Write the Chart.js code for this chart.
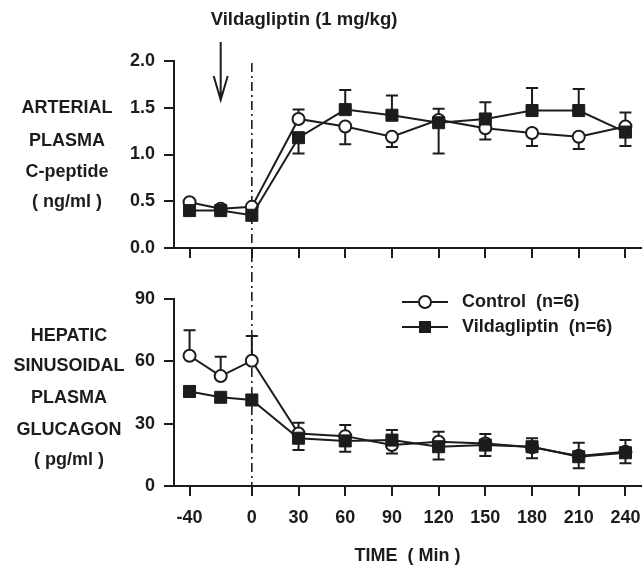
<!DOCTYPE html>
<html>
<head>
<meta charset="utf-8">
<script src="https://cdn.jsdelivr.net/npm/chart.js@4/dist/chart.umd.min.js"></script>
<style>
  body { margin: 0; background: #fff; }
  #wrap { position: relative; width: 642px; height: 567px; }
  canvas { position: absolute; left: 0; }
  #top-chart { top: 0; }
  #bottom-chart { top: 273px; }
</style>
</head>
<body>
<div id="wrap">
  <canvas id="top-chart" width="642" height="273"></canvas>
  <canvas id="bottom-chart" width="642" height="294"></canvas>
</div>
<script>
// time in minutes, vildagliptin given at -20
const timePoints = [-40, -20, 0, 30, 60, 90, 120, 150, 180, 210, 240];
const xTickValues = [-40, 0, 30, 60, 90, 120, 150, 180, 210, 240];
const seriesNames = ['Control  (n=6)', 'Vildagliptin  (n=6)'];

// arterial plasma C-peptide (ng/ml)
const ctrlCpep = [0.49, 0.42, 0.44, 1.38, 1.30, 1.19, 1.37, 1.28, 1.23, 1.19, 1.30];
const ctrlCpepUp = [0, 0, 0, 0.10, 0, 0, 0.12, 0, 0, 0, 0.15];
const ctrlCpepDown = [0, 0, 0, 0, 0.19, 0.11, 0, 0.12, 0.14, 0.13, 0];
const vildCpep = [0.40, 0.40, 0.35, 1.18, 1.48, 1.42, 1.34, 1.38, 1.47, 1.47, 1.24];
const vildCpepUp = [0, 0, 0, 0, 0.21, 0.21, 0, 0.18, 0.24, 0.23, 0];
const vildCpepDown = [0, 0, 0, 0.17, 0, 0, 0.33, 0, 0, 0, 0.15];
const cpepTicks = [0, 0.5, 1.0, 1.5, 2.0];

// hepatic sinusoidal plasma glucagon (pg/ml)
const ctrlGlucagon = [62.7, 52.9, 60.3, 25.3, 24.0, 19.7, 21.3, 20.5, 18.6, 14.5, 16.5];
const ctrlGlucagonUp = [12.3, 9.3, 11.9, 5.2, 5.4, 0, 4.8, 4.5, 4.4, 6.3, 5.6];
const ctrlGlucagonDown = [0, 0, 0, 0, 0, 4.0, 0, 0, 0, 0, 0];
const vildGlucagon = [45.5, 42.7, 41.4, 23.0, 21.7, 22.1, 18.9, 19.7, 18.9, 14.1, 16.0];
const vildGlucagonUp = [0, 0, 0, 0, 0, 4.9, 0, 0, 0, 0, 0];
const vildGlucagonDown = [2.5, 2.0, 0, 5.7, 5.2, 0, 6.1, 5.3, 5.6, 5.6, 5.1];
const glucagonTicks = [0, 30, 60, 90];

const INK = '#1c1c1c';
const FONT = '"Liberation Sans", Arial, sans-serif';

function toPoints(vals) {
    return timePoints.map((t, i) => ({ x: t, y: vals[i] }));
}

function makeDatasets(ctrl, ctrlUp, ctrlDown, vild, vildUp, vildDown) {
    return [{
        label: seriesNames[0],
        data: toPoints(ctrl),
        errUp: ctrlUp,
        errDown: ctrlDown,
        borderColor: INK,
        borderWidth: 2,
        pointStyle: 'circle',
        pointRadius: 6,
        pointBorderWidth: 2,
        pointBackgroundColor: '#fff',
        pointBorderColor: INK,
        tension: 0,
        clip: false,
        order: 2
    }, {
        label: seriesNames[1],
        data: toPoints(vild),
        errUp: vildUp,
        errDown: vildDown,
        borderColor: INK,
        borderWidth: 2,
        pointStyle: 'rect',
        pointRadius: 8.5,
        pointBorderWidth: 1,
        pointBackgroundColor: INK,
        pointBorderColor: INK,
        tension: 0,
        clip: false,
        order: 1
    }];
}

// SEM whiskers, drawn under the markers
const errorBars = {
    id: 'errorBars',
    beforeDatasetsDraw(chart) {
        const ctx = chart.ctx;
        const ys = chart.scales.y;
        ctx.save();
        ctx.strokeStyle = INK;
        ctx.lineWidth = 2;
        chart.data.datasets.forEach((ds, i) => {
            const meta = chart.getDatasetMeta(i);
            meta.data.forEach((pt, j) => {
                const v = ds.data[j].y;
                [ds.errUp[j], -ds.errDown[j]].forEach(e => {
                    if (!e) return;
                    const yEnd = ys.getPixelForValue(v + e);
                    ctx.beginPath();
                    ctx.moveTo(pt.x, pt.y);
                    ctx.lineTo(pt.x, yEnd);
                    ctx.moveTo(pt.x - 6, yEnd);
                    ctx.lineTo(pt.x + 6, yEnd);
                    ctx.stroke();
                });
            });
        });
        ctx.restore();
    }
};

function drawDashDot(chart, y0, y1) {
    const ctx = chart.ctx;
    const x = chart.scales.x.getPixelForValue(0);
    ctx.save();
    ctx.strokeStyle = INK;
    ctx.lineWidth = 1.6;
    ctx.setLineDash([9, 4, 2, 4]);
    ctx.beginPath();
    ctx.moveTo(x, y0);
    ctx.lineTo(x, y1);
    ctx.stroke();
    ctx.restore();
}

function drawSideLabel(chart, lines, cx, ys) {
    const ctx = chart.ctx;
    ctx.save();
    ctx.fillStyle = INK;
    ctx.font = 'bold 18px ' + FONT;
    ctx.textAlign = 'center';
    ctx.textBaseline = 'middle';
    lines.forEach((t, i) => ctx.fillText(t, cx, ys[i]));
    ctx.restore();
}

const topDecor = {
    id: 'topDecor',
    beforeDatasetsDraw(chart) {
        drawDashDot(chart, 63, chart.height);
    },
    afterDraw(chart) {
        const ctx = chart.ctx;
        drawSideLabel(chart, ['ARTERIAL', 'PLASMA', 'C-peptide', '( ng/ml )'], 67, [108, 141, 172, 202]);
        ctx.save();
        ctx.fillStyle = INK;
        ctx.font = 'bold 18.5px ' + FONT;
        ctx.textAlign = 'center';
        ctx.textBaseline = 'middle';
        ctx.fillText('Vildagliptin (1 mg/kg)', 304, 20);
        // dosing arrow
        const ax = chart.scales.x.getPixelForValue(-20);
        ctx.strokeStyle = INK;
        ctx.lineWidth = 2;
        ctx.beginPath();
        ctx.moveTo(ax, 42);
        ctx.lineTo(ax, 100);
        ctx.moveTo(ax - 7, 76);
        ctx.lineTo(ax, 100);
        ctx.lineTo(ax + 7, 76);
        ctx.stroke();
        ctx.restore();
    }
};

const bottomDecor = {
    id: 'bottomDecor',
    beforeDatasetsDraw(chart) {
        drawDashDot(chart, 0, chart.chartArea.bottom + 4);
    },
    afterDraw(chart) {
        const ctx = chart.ctx;
        drawSideLabel(chart, ['HEPATIC', 'SINUSOIDAL', 'PLASMA', 'GLUCAGON', '( pg/ml )'], 69, [63, 93, 125, 157, 187]);
        // legend
        const rows = [29, 54];
        ctx.save();
        chart.data.datasets.forEach((ds, i) => {
            const y = rows[i];
            ctx.strokeStyle = INK;
            ctx.lineWidth = 2;
            ctx.beginPath();
            ctx.moveTo(402, y);
            ctx.lineTo(448, y);
            ctx.stroke();
            if (ds.pointStyle === 'circle') {
                ctx.fillStyle = '#fff';
                ctx.beginPath();
                ctx.arc(425, y, 6, 0, Math.PI * 2);
                ctx.fill();
                ctx.stroke();
            } else {
                ctx.fillStyle = INK;
                ctx.fillRect(419, y - 6, 12, 12);
            }
            ctx.fillStyle = INK;
            ctx.font = 'bold 18px ' + FONT;
            ctx.textAlign = 'left';
            ctx.textBaseline = 'middle';
            ctx.fillText(ds.label, 462, y);
        });
        ctx.restore();
    }
};

function axisGrid() {
    return { display: true, drawOnChartArea: false, color: INK, lineWidth: 2, tickLength: 10 };
}

function makeOptions(yMin, yMax, yTicks, yFmt, topPad, xHeight, showX) {
    return {
        responsive: false,
        animation: false,
        devicePixelRatio: 1,
        layout: { autoPadding: false, padding: { top: topPad, right: 1, left: 0, bottom: 0 } },
        plugins: { legend: { display: false }, tooltip: { enabled: false } },
        scales: {
            x: {
                type: 'linear',
                min: -50,
                max: 250,
                afterBuildTicks: s => { s.ticks = xTickValues.map(v => ({ value: v })); },
                afterFit: s => {
                    s.height = xHeight;
                    s.paddingLeft = 0;
                    s.paddingRight = 0;
                },
                grid: axisGrid(),
                border: { display: true, color: INK, width: 2 },
                ticks: {
                    display: showX,
                    color: INK,
                    padding: 11,
                    maxRotation: 0,
                    font: { family: FONT, size: 18, weight: 'bold' },
                    callback: v => String(v)
                },
                title: {
                    display: showX,
                    text: 'TIME  ( Min )',
                    color: INK,
                    padding: { top: 0, bottom: 0 },
                    font: { family: FONT, size: 18, weight: 'bold' }
                }
            },
            y: {
                min: yMin,
                max: yMax,
                afterBuildTicks: s => { s.ticks = yTicks.map(v => ({ value: v })); },
                afterFit: s => {
                    s.width = 174;
                    s.paddingTop = 0;
                    s.paddingBottom = 0;
                },
                grid: axisGrid(),
                border: { display: true, color: INK, width: 2 },
                ticks: {
                    color: INK,
                    padding: 9,
                    font: { family: FONT, size: 18, weight: 'bold' },
                    callback: yFmt
                }
            }
        }
    };
}

new Chart(document.getElementById('top-chart').getContext('2d'), {
    type: 'line',
    data: { datasets: makeDatasets(ctrlCpep, ctrlCpepUp, ctrlCpepDown, vildCpep, vildCpepUp, vildCpepDown) },
    options: makeOptions(0, 2.0, cpepTicks, v => v.toFixed(1), 61, 25, false),
    plugins: [errorBars, topDecor]
});

new Chart(document.getElementById('bottom-chart').getContext('2d'), {
    type: 'line',
    data: { datasets: makeDatasets(ctrlGlucagon, ctrlGlucagonUp, ctrlGlucagonDown, vildGlucagon, vildGlucagonUp, vildGlucagonDown) },
    options: makeOptions(0, 90, glucagonTicks, v => String(v), 26, 81, true),
    plugins: [errorBars, bottomDecor]
});
</script>
</body>
</html>
